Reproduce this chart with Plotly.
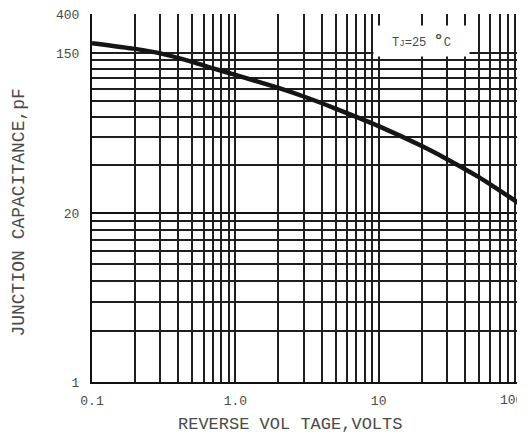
import math
import plotly.graph_objects as go

# Curve data: reverse voltage (V) vs junction capacitance (pF)
voltage = [0.1, 0.2, 0.3, 0.5, 0.7, 1.0, 2.0, 3.0, 5.0, 10.0, 20.0, 30.0, 50.0, 100.0]
capacitance = [170.0, 158.2, 149.5, 134.4, 123.8, 114.1, 96.9, 87.0, 74.8, 60.0, 46.7, 39.6, 31.6, 22.2]

x_tickvals = [0.1, 0.2, 0.3, 0.4, 0.5, 0.6, 0.7, 0.8, 0.9,
              1, 2, 3, 4, 5, 6, 7, 8, 9,
              10, 20, 30, 40, 50, 60, 70, 80, 90, 100]
x_labels = {0.1: "0.1", 1: "1.0", 10: "10"}
x_end_value, x_end_label = 100, "100"

# chart-paper y scale: lower section labelled 1..20, upper 20..150, top label 400
lower_bottom, lower_top = 1.0, 20.0
upper_bottom, upper_mid = 20.0, 150.0
top_label = "400"

FONT = "Liberation Mono, Courier New, monospace"
TXT = "#4a4a4a"
GRID = "#1e1e1e"

lower_ratio = lower_top / lower_bottom
lower_ticks = [lower_bottom * lower_ratio ** math.log10(k) for k in range(1, 11)]
upper_ratio = upper_mid / upper_bottom
upper_ticks = [upper_bottom * upper_ratio ** math.log10(k) for k in range(1, 11)]
upper_top_log = math.log10(upper_bottom) + math.log10(upper_ratio) * (199.0 / 160.0)
upper_top = 10 ** upper_top_log

f = 168.4 / 368.0

fig = go.Figure()
fig.add_trace(go.Scatter(x=voltage, y=capacitance, mode="lines",
                         line=dict(color="#151515", width=4.5, shape="spline", smoothing=0.6),
                         xaxis="x", yaxis="y2", showlegend=False, hoverinfo="skip"))
fig.add_trace(go.Scatter(x=[], y=[], xaxis="x", yaxis="y", showlegend=False))

axis_common = dict(showgrid=True, gridcolor=GRID, gridwidth=1.5,
                   showline=True, linecolor="#111", linewidth=2, mirror=True,
                   ticks="", zeroline=False, automargin=False,
                   ticklabeloverflow="allow",
                   tickfont=dict(size=13, family=FONT, color=TXT))

fig.update_layout(
    width=517, height=425,
    margin=dict(l=84, r=3, t=6, b=51),
    paper_bgcolor="white", plot_bgcolor="white",
    font=dict(family=FONT, color=TXT, size=13),
    xaxis=dict(type="log", range=[-1, 2], tickvals=x_tickvals,
               ticktext=[x_labels.get(v, "") for v in x_tickvals],
               ticklabelstandoff=5, anchor="y", **axis_common),
    yaxis=dict(type="log", domain=[0, f],
               range=[math.log10(lower_bottom), math.log10(lower_top)],
               tickvals=lower_ticks[:-1],
               ticktext=["1"] + [""] * (len(lower_ticks) - 2),
               ticklabelstandoff=8, anchor="x", **axis_common),
    yaxis2=dict(type="log", domain=[f, 1],
                range=[math.log10(upper_bottom), upper_top_log],
                tickvals=upper_ticks + [upper_top * 0.9995],
                ticktext=["20"] + [""] * 8 + ["150", top_label],
                ticklabelstandoff=8, anchor="x", **axis_common),
    annotations=[
        dict(text=x_end_label, xref="x", yref="paper", x=math.log10(x_end_value),
             y=-0.05, xanchor="right", yanchor="middle", xshift=3,
             showarrow=False, font=dict(size=13, family=FONT, color=TXT)),
        dict(text="T<span style='font-size:9px'>J</span>=25 <span style='font-size:17px'><b>°</b></span>C",
             xref="paper", yref="paper", x=0.766, y=0.927,
             xanchor="center", yanchor="middle", showarrow=False,
             bgcolor="white", width=93, height=28,
             font=dict(size=12, family=FONT, color=TXT)),
        dict(text="REVERSE VOL TAGE,VOLTS", xref="paper", yref="paper",
             x=0.46, y=-0.115, xanchor="center", yanchor="middle",
             showarrow=False, font=dict(size=17, family=FONT, color=TXT)),
        dict(text="JUNCTION CAPACITANCE,pF", xref="paper", yref="paper",
             x=-0.1686, y=0.459, xanchor="center", yanchor="middle", textangle=-90,
             showarrow=False, font=dict(size=18, family=FONT, color=TXT)),
    ],
)

fig.write_html("out.html")
